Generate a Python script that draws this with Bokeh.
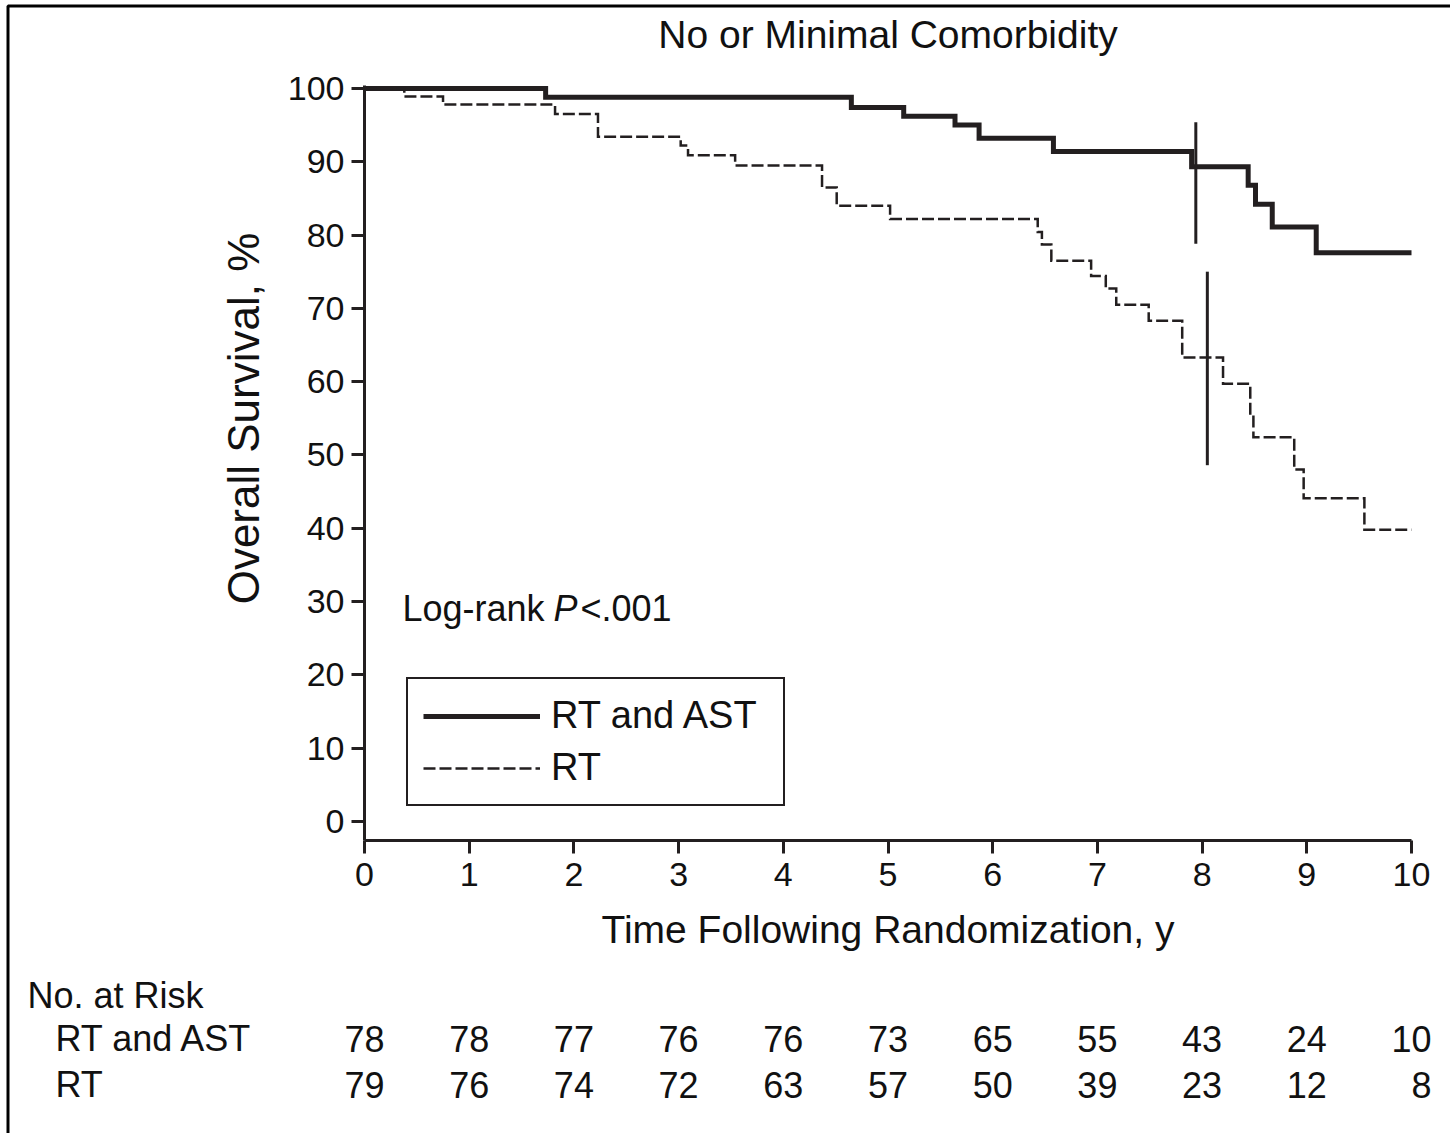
import math
from bokeh.plotting import figure
from bokeh.models import Label, BoxAnnotation, FixedTicker, Legend, LegendItem, Range1d, LinearAxis
from bokeh.embed import file_html
from bokeh.resources import INLINE

# ---------------- data ----------------
years = [0, 1, 2, 3, 4, 5, 6, 7, 8, 9, 10]
y_ticks = [0, 10, 20, 30, 40, 50, 60, 70, 80, 90, 100]

# RT and AST (solid) Kaplan-Meier steps
time_ast = [0, 1.73, 4.65, 5.15, 5.64, 5.87, 6.58, 7.90, 8.44, 8.51, 8.67, 9.09, 10.0]
surv_ast = [100, 98.8, 97.4, 96.2, 95.0, 93.2, 91.4, 89.3, 86.8, 84.2, 81.1, 77.6, 77.6]

# RT (dashed) Kaplan-Meier steps
time_rt = [0, 0.38, 0.75, 1.82, 2.23, 3.02, 3.09, 3.54, 4.37, 4.51, 5.02, 6.43, 6.47,
           6.56, 6.94, 7.08, 7.18, 7.49, 7.81, 8.20, 8.46, 8.49, 8.88, 8.97, 9.55, 10.0]
surv_rt = [100, 98.9, 97.8, 96.5, 93.4, 92.2, 90.9, 89.5, 86.5, 84.0, 82.2, 80.4, 78.7,
           76.5, 74.4, 72.7, 70.5, 68.3, 63.3, 59.7, 55.4, 52.4, 48.0, 44.1, 39.8, 39.8]

# vertical marks (solid group, dashed group)
mark_time = [7.94, 8.05]
mark_low = [78.8, 48.6]
mark_high = [95.4, 75.0]

# numbers at risk
risk_ast = [78, 78, 77, 76, 76, 73, 65, 55, 43, 24, 10]
risk_rt = [79, 76, 74, 72, 63, 57, 50, 39, 23, 12, 8]

series_names = ["RT and AST", "RT"]
title_text = "No or Minimal Comorbidity"
x_title = "Time Following Randomization, y"
y_title = "Overall Survival, %"

# ---------------- layout ----------------
W, H = 1450, 1133
X_MIN, X_MAX = 0, 10          # axis extent (data)
Y_MIN, Y_MAX = -2.6, 100.4    # axis extent (data)
PX_X0, PX_X1 = 364, 1411      # pixel columns of X_MIN / X_MAX
PX_Y1, PX_Y0 = 85, 840        # pixel rows of Y_MAX / Y_MIN
INK = "#231f20"
TXT = "#111111"
FONT = "Liberation Sans"

kx = (PX_X1 - PX_X0) / (X_MAX - X_MIN)
ky = (PX_Y0 - PX_Y1) / (Y_MAX - Y_MIN)
x_range = Range1d(X_MIN - PX_X0 / kx, X_MAX + (W - PX_X1) / kx)
y_range = Range1d(Y_MIN - (H - PX_Y0) / ky, Y_MAX + PX_Y1 / ky)


def sx(cx):
    return cx


def sy(cy):
    return H - cy


p = figure(width=W, height=H, x_range=x_range, y_range=y_range,
           output_backend="svg", toolbar_location=None,
           x_axis_location=None, y_axis_location=None,
           min_border_left=0, min_border_right=0,
           min_border_top=0, min_border_bottom=0)
p.outline_line_color = None
p.grid.visible = False
p.background_fill_color = "white"
p.border_fill_color = "white"

r_ast = p.step(time_ast, surv_ast, mode="after", line_width=5, line_color=INK,
               line_join="miter")
r_rt = p.step(time_rt, surv_rt, mode="after", line_width=2.5, line_color=INK,
              line_dash="12 4", line_join="miter")
p.segment(x0=mark_time, y0=mark_low, x1=mark_time, y1=mark_high,
          line_width=3, line_color=INK)

# axes, fixed at the data origin and bounded to the plotted extent
xaxis = LinearAxis(ticker=FixedTicker(ticks=years), fixed_location=Y_MIN,
                   bounds=(X_MIN, X_MAX))
yaxis = LinearAxis(ticker=FixedTicker(ticks=y_ticks), fixed_location=X_MIN,
                   bounds=(Y_MIN, Y_MAX))
for ax in (xaxis, yaxis):
    ax.axis_line_width = 3
    ax.axis_line_color = INK
    ax.major_tick_line_width = 3
    ax.major_tick_line_color = INK
    ax.major_tick_out = 13
    ax.major_tick_in = 0
    ax.minor_tick_line_color = None
    ax.major_label_text_font = FONT
    ax.major_label_text_font_size = "34px"
    ax.major_label_text_color = TXT
xaxis.major_label_standoff = 9
yaxis.major_label_standoff = 7
xaxis.axis_label = x_title
xaxis.axis_label_text_font = FONT
xaxis.axis_label_text_font_size = "39px"
xaxis.axis_label_text_font_style = "normal"
xaxis.axis_label_text_color = TXT
xaxis.axis_label_standoff = 19
p.add_layout(xaxis, "below")
p.add_layout(yaxis, "left")

# y axis title (placed like the reference, not centred on the axis)
p.add_layout(Label(x=sx(243), y=sy(418), x_units="screen", y_units="screen",
                   text=y_title, angle=math.pi / 2, text_align="center",
                   text_baseline="alphabetic", text_font=FONT,
                   text_font_size="44px", text_color=TXT))

# title
p.add_layout(Label(x=sx(887.5), y=sy(34), x_units="screen", y_units="screen",
                   text=title_text, text_align="center", text_baseline="alphabetic",
                   text_font=FONT, text_font_size="39px", text_color=TXT))

# log-rank text
LR_BASE = 608
p.add_layout(Label(x=sx(402), y=sy(LR_BASE), x_units="screen", y_units="screen",
                   text="Log-rank", text_baseline="alphabetic",
                   text_font=FONT, text_font_size="36px", text_color=TXT))
p.add_layout(Label(x=sx(553), y=sy(LR_BASE), x_units="screen", y_units="screen",
                   text="P", text_baseline="alphabetic", text_font_style="italic",
                   text_font=FONT, text_font_size="36px", text_color=TXT))
p.add_layout(Label(x=sx(580), y=sy(LR_BASE), x_units="screen", y_units="screen",
                   text="<.001", text_baseline="alphabetic",
                   text_font=FONT, text_font_size="36px", text_color=TXT))

# legend
legend = Legend(items=[LegendItem(label=series_names[0], renderers=[r_ast]),
                       LegendItem(label=series_names[1], renderers=[r_rt])],
                location=(sx(406), sy(806)), padding=15, spacing=9, margin=0,
                label_standoff=11, glyph_width=117, glyph_height=40,
                label_height=40, label_width=217,
                label_text_font=FONT, label_text_font_size="38px",
                label_text_color=TXT, border_line_color=INK, border_line_width=2.5,
                border_line_alpha=1,
                background_fill_color="white", background_fill_alpha=1)
p.add_layout(legend)

# numbers at risk table
p.add_layout(Label(x=sx(27), y=sy(995), x_units="screen", y_units="screen",
                   text="No. at Risk", text_baseline="alphabetic",
                   text_font=FONT, text_font_size="36px", text_color=TXT))
row_base = [1038, 1084]
for name, counts, base in zip(series_names, [risk_ast, risk_rt], row_base):
    p.add_layout(Label(x=sx(55), y=sy(base), x_units="screen", y_units="screen",
                       text=name, text_baseline="alphabetic",
                       text_font=FONT, text_font_size="36px", text_color=TXT))
    for yr, n in zip(years, counts):
        p.add_layout(Label(x=yr, y=sy(base), x_units="data", y_units="screen",
                           x_offset=20, text=str(n), text_align="right",
                           text_baseline="alphabetic", text_font=FONT,
                           text_font_size="36px", text_color=TXT))

# outer frame of the figure panel (continues past the right/bottom edges)
p.add_layout(BoxAnnotation(left=sx(7.5), right=sx(1700), top=sy(5.5), bottom=sy(1500),
                           left_units="screen", right_units="screen",
                           top_units="screen", bottom_units="screen",
                           fill_alpha=0, line_color="black", line_width=3,
                           line_alpha=1))

open("out.html", "w").write(file_html(p, INLINE))
